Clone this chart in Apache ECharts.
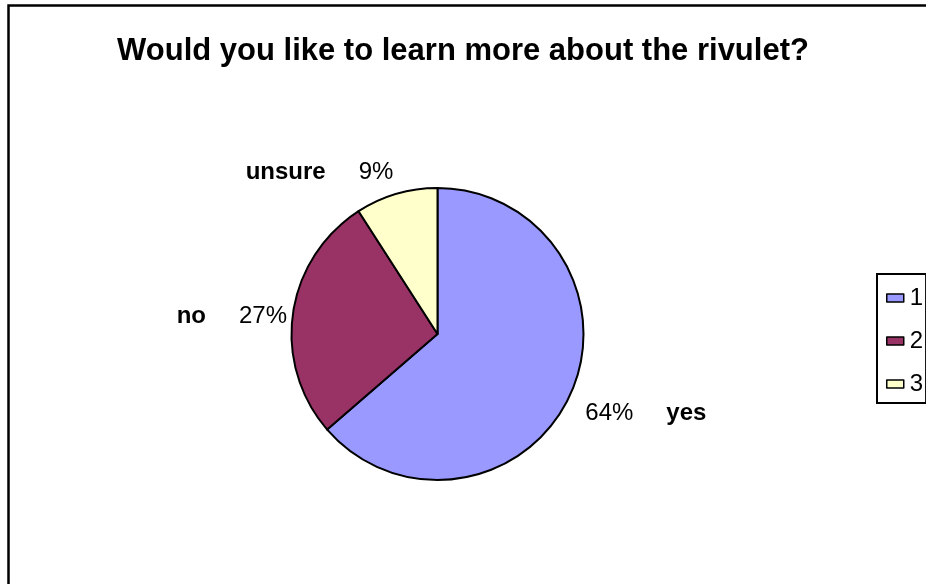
<!DOCTYPE html>
<html>
<head>
<meta charset="utf-8">
<script src="https://cdn.jsdelivr.net/npm/echarts@6/dist/echarts.min.js"></script>
<style>
  html, body { margin: 0; padding: 0; background: #fff; }
  #chart { width: 926px; height: 584px; }
</style>
</head>
<body>
<div id="chart"></div>
<script>
// answers and counts (7 / 3 / 1 out of 11)
const categories = ['yes', 'no', 'unsure'];
const counts = [7, 3, 1];
const legendLabels = ['1', '2', '3'];
const sliceColors = ['#9999FF', '#993366', '#FFFFCC'];

// nudges of the label text from where echarts puts it
const labelDx = [10, -1, 2];
const labelDy = [19, 3, -22];

const FONT = '"Liberation Sans", Arial, sans-serif';
const total = counts.reduce((a, b) => a + b, 0);

// which side of the pie is a slice on (right side: percent first)
const onRight = [];
let acc = 0;
counts.forEach(v => {
  onRight.push((acc + v / 2) / total < 0.5);
  acc += v;
});

const chart = echarts.init(document.getElementById('chart'));

const option = {
  animation: false,
  backgroundColor: '#ffffff',
  textStyle: { fontFamily: FONT },
  title: {
    text: 'Would you like to learn more about the rivulet?',
    left: 'center',
    top: 31,
    textStyle: {
      fontFamily: FONT,
      fontSize: 31,
      fontWeight: 'bold',
      color: '#000'
    }
  },
  graphic: [
    {
      // outer chart frame, runs off the right and bottom edges
      type: 'rect',
      silent: true,
      shape: { x: 8.5, y: 5.5, width: 1000, height: 1000 },
      style: { fill: 'none', stroke: '#000', lineWidth: 2.5 }
    }
  ],
  legend: {
    orient: 'vertical',
    left: 877,
    top: 274,
    padding: [12, 3, 7, 9],
    itemGap: 19,
    itemWidth: 17,
    itemHeight: 8,
    icon: 'rect',
    borderColor: '#000',
    borderWidth: 2,
    data: categories,
    formatter: name => legendLabels[categories.indexOf(name)],
    itemStyle: { borderColor: '#000', borderWidth: 1.5 },
    textStyle: {
      fontFamily: FONT,
      fontSize: 24,
      lineHeight: 24,
      color: '#000',
      padding: [0, 0, 0, 1]
    }
  },
  series: [
    {
      type: 'pie',
      center: [437.5, 334],
      radius: 146,
      startAngle: 90,
      clockwise: true,
      avoidLabelOverlap: false,
      emphasis: { disabled: true },
      itemStyle: { borderColor: '#000', borderWidth: 2 },
      labelLine: { show: false, length: 0, length2: 0 },
      label: {
        show: true,
        position: 'outside',
        color: '#000',
        formatter: p => {
          const pct = Math.round(p.percent) + '%';
          return onRight[p.dataIndex]
            ? '{p|' + pct + '}{g|}{n|' + p.name + '}'
            : '{n|' + p.name + '}{g|}{p|' + pct + '}';
        },
        rich: {
          n: { fontFamily: FONT, fontSize: 24, fontWeight: 'bold', color: '#000' },
          p: { fontFamily: FONT, fontSize: 24, color: '#000' },
          g: { width: 33 }
        }
      },
      labelLayout: p => ({ dx: labelDx[p.dataIndex], dy: labelDy[p.dataIndex] }),
      data: categories.map((name, i) => ({
        name: name,
        value: counts[i],
        itemStyle: { color: sliceColors[i] }
      }))
    }
  ]
};

chart.setOption(option);
</script>
</body>
</html>
